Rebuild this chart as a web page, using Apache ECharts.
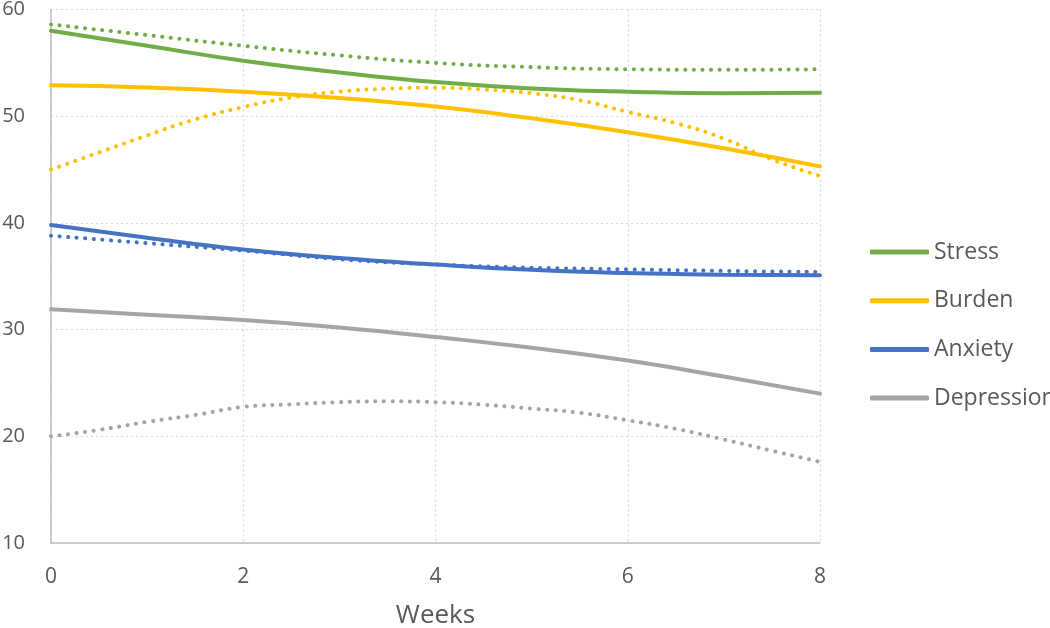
<!DOCTYPE html>
<html>
<head>
<meta charset="utf-8">
<script src="https://cdn.jsdelivr.net/npm/echarts@6/dist/echarts.min.js"></script>
<style>html,body{margin:0;padding:0;background:#fff;}#chart{width:1050px;height:628px;}</style>
</head>
<body>
<div id="chart"></div>
<script>
const weeks = [0, 1, 2, 3, 4, 5, 6, 7, 8];
const halfWeeks = [0, 0.5, 1, 1.5, 2, 2.5, 3, 3.5, 4, 4.5, 5, 5.5, 6, 6.5, 7, 7.5, 8];
const stress        = [58.0, 56.6, 55.2, 54.1, 53.2, 52.6, 52.3, 52.15, 52.2];
const stressDot     = [58.6, 57.6, 56.6, 55.7, 55.0, 54.6, 54.4, 54.35, 54.4];
const burden        = [52.9, 52.7, 52.3, 51.7, 50.9, 49.8, 48.5, 47.0, 45.3];
const burdenDot     = [45.0, 46.6, 48.2, 49.7, 50.85, 51.75, 52.3, 52.58, 52.67, 52.5, 52.15, 51.5, 50.4, 49.35, 47.9, 45.95, 44.4];
const anxiety       = [39.8, 38.6, 37.5, 36.7, 36.1, 35.6, 35.3, 35.15, 35.1];
const anxietyDot    = [38.8, 38.1, 37.4, 36.6, 36.1, 35.8, 35.65, 35.5, 35.4];
const depression    = [31.9, 31.4, 30.9, 30.2, 29.3, 28.3, 27.1, 25.6, 24.0];
const depressionDot = [20.0, 20.6, 21.35, 22.0, 22.75, 23.0, 23.2, 23.28, 23.2, 22.96, 22.6, 22.2, 21.5, 20.7, 19.7, 18.65, 17.6];
const legendNames = ['Stress', 'Burden', 'Anxiety', 'Depression'];
const colors = ['#70AD47', '#FFC000', '#4472C4', '#A5A5A5'];

const pairs = (xs, vals) => xs.map((w, i) => [w, vals[i]]);
const font = '"Open Sans", "Noto Sans", sans-serif';

function solid(name, xs, vals, color) {
  return {
    name: name, type: 'line', data: pairs(xs, vals), smooth: true, showSymbol: false,
    symbol: 'none', color: color,
    lineStyle: { width: 4, color: color, cap: 'round' }, z: 3
  };
}
function dotted(name, xs, vals, color) {
  return {
    name: name, type: 'line', data: pairs(xs, vals), smooth: true, showSymbol: false,
    symbol: 'none', color: color,
    lineStyle: { width: 4, color: color, type: [0.1, 8.5], cap: 'round' }, z: 2
  };
}

const chart = echarts.init(document.getElementById('chart'), null, { renderer: 'canvas' });
chart.setOption({
  animation: false,
  backgroundColor: '#ffffff',
  grid: { left: 51, right: 230, top: 9.5, bottom: 85, containLabel: false, outerBoundsMode: 'none' },
  legend: {
    data: legendNames.map((n) => ({ name: n, icon: 'roundRect' })),
    orient: 'vertical', left: 865, top: 235, itemWidth: 59, itemHeight: 5, itemGap: 24.7,
    textStyle: { fontFamily: font, fontSize: 23, color: '#595959', lineHeight: 24 }
  },
  xAxis: {
    type: 'value', min: 0, max: 8, interval: 2,
    name: 'Weeks', nameLocation: 'middle', nameGap: 60,
    nameTextStyle: { fontFamily: font, fontSize: 26, color: '#595959' },
    axisLine: { show: true, lineStyle: { color: '#bfbfbf', width: 1.5 } },
    axisTick: { show: false },
    axisLabel: { fontFamily: font, fontSize: 21, color: '#595959', margin: 24 },
    splitLine: { show: true, lineStyle: { color: '#d9d9d9', width: 1.2, type: [2, 3] } }
  },
  yAxis: {
    type: 'value', min: 10, max: 60, interval: 10,
    axisLine: { show: true, lineStyle: { color: '#bfbfbf', width: 1.5 } },
    axisTick: { show: false },
    axisLabel: { fontFamily: font, fontSize: 20, color: '#595959', margin: 26 },
    splitLine: { show: true, lineStyle: { color: '#d9d9d9', width: 1.2, type: [2, 3] } }
  },
  series: [
    dotted('Stress trend', weeks, stressDot, colors[0]),
    dotted('Burden trend', halfWeeks, burdenDot, colors[1]),
    dotted('Anxiety trend', weeks, anxietyDot, colors[2]),
    dotted('Depression trend', halfWeeks, depressionDot, colors[3]),
    solid(legendNames[0], weeks, stress, colors[0]),
    solid(legendNames[1], weeks, burden, colors[1]),
    solid(legendNames[2], weeks, anxiety, colors[2]),
    solid(legendNames[3], weeks, depression, colors[3])
  ]
});
</script>
</body>
</html>
